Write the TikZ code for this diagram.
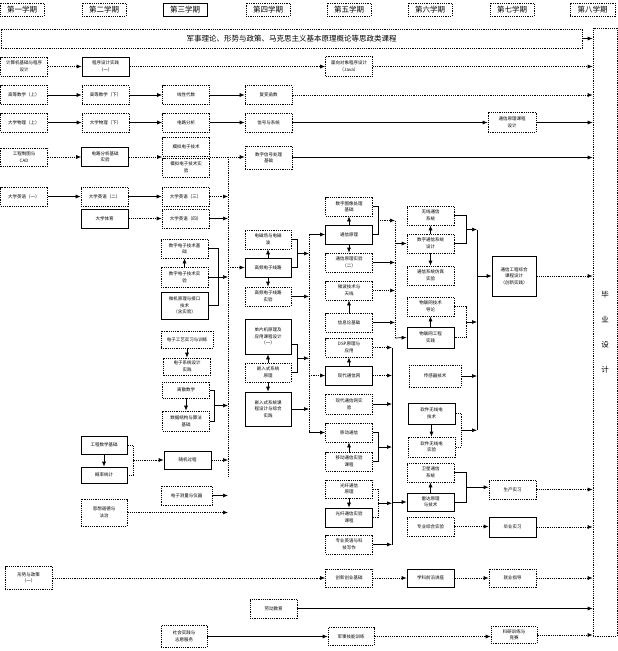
\documentclass[tikz,border=0pt]{standalone}
\usepackage{fontspec}
\setmainfont{Noto Sans CJK SC}
\usetikzlibrary{arrows.meta,calc}
\tikzset{
  bx/.style={draw, line width=0.7pt, dash pattern=on 1.2pt off 1pt, minimum width=47pt, minimum height=19pt,
    inner sep=0.5pt, align=center, font=\fontsize{4.5}{6.5}\selectfont},
  sbx/.style={bx, solid},
  hd/.style={bx, minimum width=44pt, minimum height=13pt, font=\fontsize{7.5}{9}\selectfont},
  ar/.style={-{Latex[length=5pt,width=4pt]}, line width=0.7pt},
  dar/.style={ar, dash pattern=on 1.2pt off 1pt},
  ln/.style={line width=0.7pt},
  dln/.style={ln, dash pattern=on 1.2pt off 1pt},
}
\begin{document}
\begin{tikzpicture}[x=1pt,y=-1pt]
\useasboundingbox (0,0) rectangle (618,651);
% headers
\node[hd] (H1) at (22,9.5) {第一学期};
\node[hd] (H2) at (104,9.5) {第二学期};
\node[hd,solid] (H3) at (185,9.5) {第三学期};
\node[hd] (H4) at (268,9.5) {第四学期};
\node[hd] (H5) at (349,9.5) {第五学期};
\node[hd] (H6) at (430,9.5) {第六学期};
\node[hd] (H7) at (512,9.5) {第七学期};
\node[hd,minimum width=45pt] (H8) at (592.5,9.5) {第八学期};
% banner and final column
\node[bx, minimum width=581pt, minimum height=19pt, font=\fontsize{7.5}{9}\selectfont] (ban) at (291.5,38.5) {军事理论、形势与政策、马克思主义基本原理概论等思政类课程};
\node[bx, minimum width=24pt, minimum height=608pt, font=\fontsize{7.5}{25}\selectfont] (col) at (605,332) {毕\\业\\设\\计};
% row 1
\node[bx] (A1) at (24,66.5) {计算机基础与程序\\设计};
\node[sbx] (B1) at (105.5,66.5) {程序设计实践\\（一）};
\node[bx, minimum height=20pt] (E1r) at (349,66.5) {面向对象程序设计\\（Java）};
% row 2
\node[bx] (A2) at (24,95) {高等数学（上）};
\node[bx] (B2) at (105.5,95) {高等数学（下）};
\node[bx] (C2) at (186,95) {线性代数};
\node[bx] (D2) at (268.5,95) {复变函数};
% row 3
\node[bx] (A3) at (24,122.5) {大学物理（上）};
\node[bx] (B3) at (105.5,122.5) {大学物理（下）};
\node[bx] (C3) at (186,122.5) {电路分析};
\node[bx] (D3) at (268.5,122.5) {信号与系统};
\node[bx, minimum width=48pt, minimum height=20pt] (G3) at (512,122.5) {通信原理课程\\设计};
% row 4
\node[bx, minimum height=18pt] (A4) at (24,157) {工程制图与\\CAD};
\node[sbx] (B4) at (105,157) {电路分析基础\\实验};
\node[bx] (C4a) at (186,146.5) {模拟电子技术};
\node[bx] (C4b) at (186,167.5) {模拟电子技术实\\验};
\node[bx, minimum height=23pt] (D4) at (268.5,157.5) {数字信号处理\\基础};
% rows 5,6
\node[bx] (A5) at (24,196.5) {大学英语（一）};
\node[bx] (B5) at (104.5,196.5) {大学英语（二）};
\node[bx] (C5) at (185.5,196.5) {大学英语（三）};
\node[sbx] (B6) at (104.5,218.5) {大学体育};
\node[bx] (C6) at (185.5,218.5) {大学英语（四）};
% C7 group
\node[bx] (C7a) at (184.5,248.5) {数字电子技术基\\础};
\node[bx, minimum height=20pt] (C7b) at (184.5,277) {数字电子技术实\\验};
\node[sbx, minimum height=27pt] (C7c) at (184.5,305.5) {微机原理与接口\\技术\\（含实验）};
\node[bx, minimum width=52pt, minimum height=17pt] (C9) at (187,339.5) {电子工艺实习与训练};
\node[bx, minimum height=17pt] (C10) at (187,366.5) {电子系统设计\\实践};
\node[bx, minimum height=16pt] (C11a) at (186,390) {离散数学};
\node[bx, minimum height=20pt] (C11b) at (186,421) {数据结构与算法\\基础};
\node[sbx, minimum width=46pt, minimum height=18pt] (B12a) at (104,445) {工程数学基础};
\node[sbx, minimum width=46pt, minimum height=16pt] (B12b) at (104,475) {概率统计};
\node[sbx, minimum height=18pt] (C12) at (187.5,460) {随机过程};
\node[bx, minimum width=51pt] (C13) at (186.5,495.5) {电子测量与仪器};
\node[bx, minimum width=46pt, minimum height=27pt] (B14) at (104,512.5) {思想道德与\\法治};
% D column
\node[bx, minimum width=46pt] (D7a) at (268,239.5) {电磁场与电磁\\波};
\node[sbx, minimum width=46pt] (D7b) at (268,267.5) {高频电子线路};
\node[bx, minimum width=46pt] (D7c) at (268,296.5) {高频电子线路\\实验};
\node[sbx, minimum width=46pt, minimum height=35pt] (D8a) at (268,336.5) {单片机原理及\\应用课程设计\\（一）};
\node[bx, minimum width=46pt] (D8b) at (268,372.5) {嵌入式系统\\原理};
\node[sbx, minimum width=46pt, minimum height=34pt] (D8c) at (268,409) {嵌入式系统课\\程设计与综合\\实践};
% E column
\node[bx] (E1a) at (349,206.5) {数字图像处理\\基础};
\node[sbx] (E1b) at (349,234.5) {通信原理};
\node[bx] (E1c) at (349,262.5) {通信原理实验\\（二）};
\node[bx] (E2a) at (349,290.5) {微波技术与\\天线};
\node[bx] (E2b) at (349,322.5) {信息论基础};
\node[bx] (E3a) at (349,347.5) {DSP原理与\\应用};
\node[sbx] (E3b) at (349,375.5) {现代通信网};
\node[bx, minimum height=20pt] (E3c) at (349,404) {现代通信网实\\验};
\node[bx] (E7a) at (349,432.5) {移动通信};
\node[bx] (E7b) at (349,461.5) {移动通信实验\\课程};
\node[bx, minimum height=18pt] (E8a) at (349,489) {光纤通信\\原理};
\node[sbx] (E8b) at (349,517.5) {光纤通信实验\\课程};
\node[bx] (E9) at (349,544.5) {专业英语与科\\技写作};
% F column
\node[bx] (F1a) at (430.5,215.5) {无线通信\\系统};
\node[bx] (F1b) at (430.5,243.5) {数字通信系统\\设计};
\node[bx] (F1c) at (430.5,275.5) {通信系统仿真\\实验};
\node[bx] (F3a) at (430.5,306.5) {物联网技术\\导论};
\node[sbx, minimum height=21pt] (F3b) at (430.5,337.5) {物联网工程\\实践};
\node[bx, minimum width=52pt, minimum height=22pt] (F4) at (435,376) {传感器技术};
\node[sbx, minimum height=21pt] (F5a) at (431.5,413.5) {软件无线电\\技术};
\node[bx, minimum height=20pt] (F5b) at (431.5,447) {软件无线电\\实验};
\node[bx] (F9a) at (430.5,472.5) {卫星通信\\系统};
\node[sbx, minimum height=18pt] (F9b) at (430.5,502) {雷达原理\\与技术};
\node[bx] (F10) at (430.5,526.5) {专业综合实验};
% G column
\node[sbx, minimum width=44pt, minimum height=40pt] (G1) at (514,276) {通信工程综合\\课程设计\\（创新实践）};
\node[bx] (G9) at (512.5,489.5) {生产实习};
\node[sbx, minimum height=20pt] (G10) at (512.5,527) {毕业实习};
% bottom rows
\node[bx, minimum height=23pt] (A15) at (28.5,578) {形势与政策\\（一）};
\node[bx, minimum height=18pt] (E15) at (349,578) {创新创业基础};
\node[sbx, minimum height=18pt] (F15) at (430.5,578) {学科前沿讲座};
\node[bx, minimum height=18pt] (G15) at (512.5,578) {就业指导};
\node[bx] (D16) at (273.5,608.5) {劳动教育};
\node[bx, minimum width=46pt, minimum height=22pt] (C17) at (184,636.5) {社会实践与\\志愿服务};
\node[bx, minimum width=46pt, minimum height=18pt] (E17) at (351,636.5) {军事技能训练};
\node[bx, minimum width=46pt, minimum height=17pt] (G17) at (514,635) {科研训练与\\竞赛};
% bus coordinates
\coordinate (b1t) at (228,157);
\coordinate (b1b) at (228,478);
\coordinate (b2t) at (309,234.5);
\coordinate (b2b) at (309,432.5);
\coordinate (b4t) at (392,347.5);
\coordinate (b4b) at (392,544.5);
% ---- connectors ----
\draw[ar] (ban.east) -- (ban.east -| col.west);
\draw[dar] (A1) -- (B1);
\draw[dar] (B1) -- (E1r);
\draw[dar] (E1r.east) -- (E1r.east -| col.west);
\draw[ar] (A2) -- (B2);
\draw[ar] (B2) -- (C2);
\draw[ar] (C2) -- (D2);
\draw[dar] (D2.east) -- (D2.east -| col.west);
\draw[ar] (A3) -- (B3);
\draw[ar] (B3) -- (C3);
\draw[ar] (C3) -- (D3);
\draw[ar] (D3) -- (G3);
\draw[ar] (G3.east) -- (G3.east -| col.west);
\draw[dar] (A4) -- (B4);
\draw[dar] (B4.east) -- (B4.east -| C4a.west);
\draw[dar] (B4.east -| C4a.east) -- (B4.east -| D4.west);
\draw[ar] (D4.east) -- (D4.east -| col.west);
\draw[dln] (b1t) -- (b1b);
\draw[ar] (A5) -- (B5);
\draw[ar] (B5) -- (C5);
\draw[dar] (C5.east) -- (C5.east -| b1t);
\draw[dar] (B6) -- (C6);
\draw[ar] (C6.east) -- (C6.east -| b1t);
\draw[ar] (C7b) -- (C7a);
\draw[ln] (C7a.east) -- ++(10,0) |- (C7c.east);
\draw[ar] (C7b.east) -- (C7b.east -| b1t);
\draw[ar] (C9.south) -- (C9.south |- C10.north);
\draw[ar] (C11a) -- (C11b);
\draw[ln] (C11a.east) -- ++(4,0) |- (C11b.east);
\coordinate (c11m) at ($(C11a.east)!.5!(C11b.east)+(4,0)$);
\draw[ar] (c11m) -- (c11m -| b1t);
\draw[ar] (B12a) -- (B12b);
\draw[dln] (B12a.east) -- ++(6,0) |- (B12b.east);
\coordinate (b12m) at ($(B12a.east)!.5!(B12b.east)+(6,0)$);
\draw[dar] (b12m) -- (b12m -| C12.west);
\draw[dar] (C12.east) -- (C12.east -| b1t);
\draw[ar] (C13.east) -- (C13.east -| b1t);
\draw[dar] (B14.east) -- (B14.east -| b1t);
% D column
\draw[dar] (D7b.west -| b1t) -- (D7b.west);
\draw[ar] (D7b) -- (D7a);
\draw[ar] (D7b) -- (D7c);
\draw[ln] (D7a.east) -- ++(6,0) |- (D7b.east);
\coordinate (d7m) at ($(D7a.east)!.5!(D7b.east)+(6,0)$);
\draw[ar] (d7m) -- (d7m -| b2t);
\draw[ar] (D7c.east) -- (D7c.east -| b2t);
\draw[ar] (D8b) -- (D8a);
\draw[ar] (D8b) -- (D8c);
\coordinate (d8t) at ($(D8a.east)+(0,7.5)$);
\draw[ln] (d8t) -- ++(6,0) |- (D8b.east);
\coordinate (d8m) at ($(d8t)!.5!(D8b.east)+(6,0)$);
\draw[ar] (d8m) -- (d8m -| b2t);
\draw[ar] (D8c.east) -- (D8c.east -| b2t);
\draw[dln] (b2t) -- (b2b);
\draw[ar] (b2t) -- (E1b.west);
\draw[dar] (E3b.west -| b2t) -- (E3b.west);
\draw[ar] (b2b) -- (E7a.west);
% E column
\draw[ar] (E1b) -- (E1a);
\draw[ar] (E1b) -- (E1c);
\draw[ln] (E1a.east) -- ++(5,0) |- (E1b.east);
\coordinate (b3t) at ($(E1a.east)!.5!(E1b.east)+(5,0)$);
\coordinate (b3) at (395,0);
\coordinate (b3b) at (395,338);
\draw[dar] (b3t) -- (b3t -| b3);
\draw[dln] (b3t -| b3) -- (b3b);
\draw[ar] (E1c.east) -- (E1c.east -| b3);
\draw[dar] (E2a.east) -- (E2a.east -| b3);
\draw[ar] (E2b.east) -- (E2b.east -| b3);
\draw[ar] (E2b) -- (E2a);
\draw[ar] (F1b.west -| b3) -- (F1b.west);
\draw[ar] (b3b) -- (F3b.west);
\draw[ar] (E3b) -- (E3a);
\draw[ln] (b4t) -- (b4b);
\draw[dar] (E3a.east) -- (E3a.east -| b4t);
\draw[dar] (E3b.east) -- (E3b.east -| b4t);
\draw[ar] (E3c.east) -- (E3c.east -| b4t);
\draw[ar] (E7b) -- (E7a);
\draw[ln] (E7a.east) -- ++(5,0) |- (E7b.east);
\coordinate (e7m) at ($(E7a.east)!.5!(E7b.east)+(5,0)$);
\draw[ar] (e7m) -- (e7m -| b4t);
\draw[ar] (E8a) -- (E8b);
\draw[dln] (E8a.east) -- ++(5,0) |- (E8b.east);
\coordinate (e8m) at ($(E8a.east)!.5!(E8b.east)+(5,0)$);
\draw[ar] (e8m) -- (e8m -| b4t);
\draw[ar] (E9.east) -- (E9.east -| b4t);
\draw[ar] (F9b.west -| b4t) -- (F9b.west);
% F column
\draw[ar] (F1b) -- (F1a);
\draw[ar] (F1b) -- (F1c);
\draw[ln] (F1a.east) -- ++(12,0) |- (F1b.east);
\coordinate (f1m) at ($(F1a.east)!.5!(F1b.east)+(12,0)$);
\coordinate (b5) at (477,0);
\draw[ar] (f1m) -- (f1m -| b5);
\draw[ar] (F3b) -- (F3a);
\draw[dln] (F3a.east) -- ++(12,0) |- (F3b.east);
\coordinate (f3m) at ($(F3a.east)!.5!(F3b.east)+(12,0)$);
\draw[ar] (f3m) -- (f3m -| b5);
\draw[ar] (F4.east) -- (F4.east -| b5);
\draw[ar] (F5a) -- (F5b);
\draw[dln] (F5a.east) -- ++(6,0) |- (F5b.east);
\coordinate (f5m) at ($(F5a.east)!.5!(F5b.east)+(6,0)$);
\draw[ar] (f5m) -- (f5m -| b5);
\draw[ln] (f1m -| b5) -- (f5m -| b5);
\draw[ar] (G1.west -| b5) -- (G1.west);
\draw[dar] (G1.east) -- (G1.east -| col.west);
\draw[ar] (F9b) -- (F9a);
\draw[ln] (F9a.east) -- ++(12,0) |- (F9b.east);
\coordinate (f9m) at ($(F9a.east)!.5!(F9b.east)+(12,0)$);
\draw[ar] (f9m) -- (f9m -| G9.west);
\draw[dar] (G9.east) -- (G9.east -| col.west);
\draw[dar] (F10.east) -- (F10.east -| G10.west);
\draw[dar] (G10.east) -- (G10.east -| col.west);
% bottom rows
\draw[dar] (A15.east) -- (A15.east -| E15.west);
\draw[dar] (E15) -- (F15);
\draw[dar] (F15) -- (G15);
\draw[dar] (G15.east) -- (G15.east -| col.west);
\draw[ar] (D16.east) -- (D16.east -| col.west);
\draw[ar] (C17.east) -- (C17.east -| E17.west);
\draw[dar] (E17.east) -- (E17.east -| G17.west);
\draw[dar] (G17.east) -- (G17.east -| col.west);
\end{tikzpicture}
\end{document}
